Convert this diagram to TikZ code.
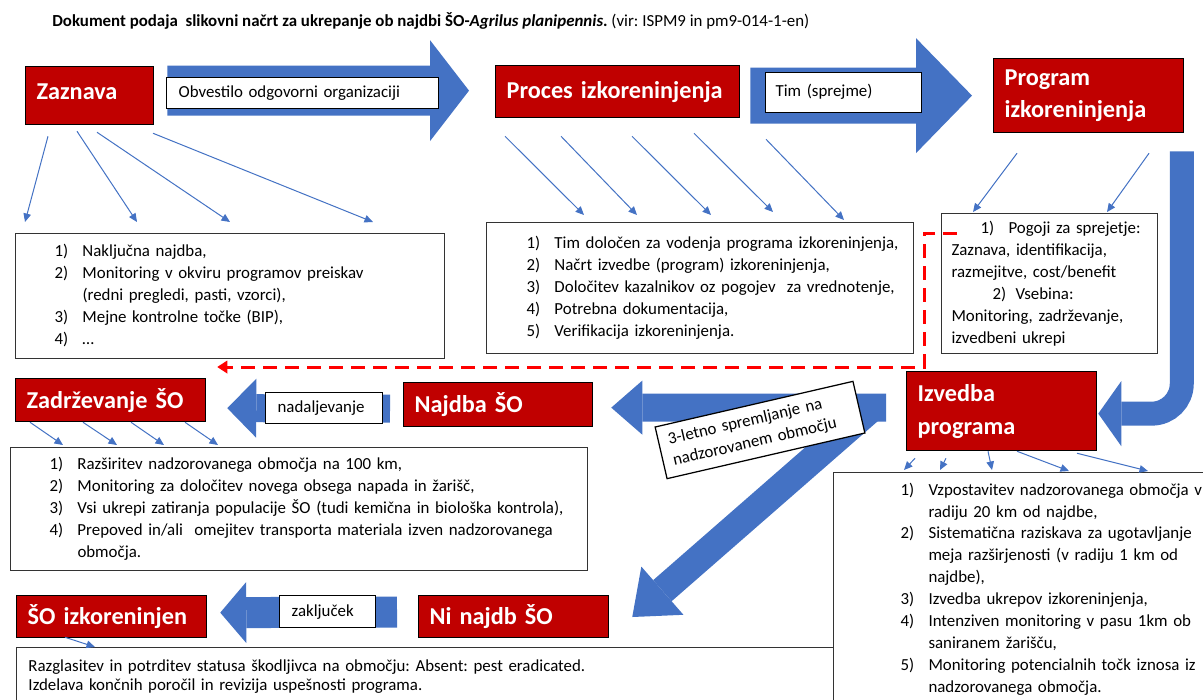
\documentclass[tikz,border=0pt]{standalone}
\usepackage{fontspec}
\setmainfont{Carlito}
\usepackage{xcolor}
\usepackage{tikz}
\usetikzlibrary{arrows.meta, calc, positioning}

\definecolor{temnordeca}{HTML}{C00000}
\definecolor{modra}{HTML}{4472C4}
\frenchspacing

\begin{document}
\begin{tikzpicture}[x=0.2mm, y=-0.2mm,
    fan/.style = {draw=modra, line width=0.2mm, -{Triangle[length=1.7mm,width=1.5mm]}},
    big/.style n args = {3}{draw=modra, line width=#1, -{Triangle[length=#2,width=#3,line width=0pt]}}]
  \tikzset{okvir/.style 2 args={anchor=north west, inner sep=0pt, minimum width=#1, minimum height=#2, align=left}}
  \tikzset{stage/.style={draw=black, line width=0.25mm, fill=temnordeca, text=white, font=\fontsize{13.8}{18.7}\selectfont\bfseries}}
  \tikzset{seznam/.style={draw=black!80, line width=0.2mm, fill=white, font=\fontsize{9.6}{12.5}\selectfont}}
  \tikzset{oznaka/.style={draw=black, line width=0.25mm, fill=white, inner sep=0pt, align=left, font=\fontsize{9.6}{12.5}\selectfont}}
  \tikzset{crtkano/.style={draw=red, line width=0.6mm, dash pattern=on 2.8mm off 1.6mm, -{Triangle[length=2mm,width=2.6mm,line width=0pt]}}}

  \useasboundingbox (0,0) rectangle (1203,699);
  \clip (0,0) rectangle (1203,699);
  \fill[white] (0,0) rectangle (1203,699);

  % Naslov
  \node[anchor=west, inner sep=0pt, font=\fontsize{9.6}{11}\selectfont] (naslov) at (52,21) {\textbf{Dokument podaja~ slikovni načrt za ukrepanje ob najdbi ŠO-\textit{Agrilus planipennis}.} (vir: ISPM9 in pm9-014-1-en)};

  % Faze
  \node[okvir={25.6mm}{11.6mm}, stage, text width=21.2mm] (zaznava) at (25,66) {\raisebox{1.4mm}{Zaznava}};
  \node[okvir={48.8mm}{10.4mm}, stage, text width=44.4mm] (proces) at (495,65) {Proces izkoreninjenja};
  \node[okvir={38mm}{14.8mm}, stage, text width=33.6mm] (program) at (993,58) {Program\\izkoreninjenja};
  \node[okvir={38mm}{15.8mm}, stage, text width=33.6mm] (izvedba) at (906,371) {Izvedba\\programa};
  \node[okvir={37.8mm}{8.8mm}, stage, text width=33.4mm] (najdba) at (403,382) {Najdba ŠO};
  \node[okvir={38mm}{8.6mm}, stage, text width=33.6mm] (zadrz) at (15,378) {Zadrževanje ŠO};
  \node[okvir={38mm}{8.4mm}, stage, text width=33.6mm] (izkor) at (16,595) {ŠO izkoreninjen};
  \node[okvir={38mm}{8.4mm}, stage, text width=33.6mm] (ninajdb) at (418,595) {Ni najdb ŠO};

  % Seznami
  \node[okvir={85.8mm}{25mm}, seznam, text width=70.2mm] (zazlist) at (15,233) {\begin{tabular}{@{}p{5.6mm}@{}l@{}}
    1) & Naključna najdba,\\
    2) & Monitoring v okviru programov preiskav\\
       & (redni pregledi, pasti, vzorci),\\
    3) & Mejne kontrolne točke (BIP),\\
    4) & …
  \end{tabular}};
  \node[okvir={85.4mm}{26.2mm}, seznam, text width=69.4mm] (proclist) at (486,222) {\begin{tabular}{@{}p{5.6mm}@{}l@{}}
    1) & Tim določen za vodenja programa izkoreninjenja,\\
    2) & Načrt izvedbe (program) izkoreninjenja,\\
    3) & Določitev kazalnikov oz pogojev~ za vrednotenje,\\
    4) & Potrebna dokumentacija,\\
    5) & Verifikacija izkoreninjenja.
  \end{tabular}};
  \node[okvir={43.2mm}{28mm}, seznam, text width=39.2mm] (proglist) at (941,213) {\hspace*{5.8mm}\makebox[5.6mm][l]{1)}Pogoji za sprejetje:\\
    Zaznava, identifikacija,\\
    razmejitve, cost/benefit\\
    \hspace*{8.2mm}\makebox[4.6mm][l]{2)}Vsebina:\\
    Monitoring, zadrževanje,\\
    izvedbeni ukrepi};
  \node[okvir={115.4mm}{24.6mm}, seznam, text width=99.8mm] (zadrzlist) at (10,447) {\begin{tabular}{@{}p{5.6mm}@{}l@{}}
    1) & Razširitev nadzorovanega območja na 100 km,\\
    2) & Monitoring za določitev novega obsega napada in žarišč,\\
    3) & Vsi ukrepi zatiranja populacije ŠO (tudi kemična in biološka kontrola),\\
    4) & Prepoved in/ali~ omejitev transporta materiala izven nadzorovanega\\
       & območja.
  \end{tabular}};
  \node[okvir={91.4mm}{46.8mm}, seznam, text width=64.6mm] (izvlist) at (833,472) {\begin{tabular}{@{}p{5.6mm}@{}l@{}}
    1) & Vzpostavitev nadzorovanega območja v\\
       & radiju 20 km od najdbe,\\
    2) & Sistematična raziskava za ugotavljanje\\
       & meja razširjenosti (v radiju 1 km od\\
       & najdbe),\\
    3) & Izvedba ukrepov izkoreninjenja,\\
    4) & Intenziven monitoring v pasu 1km ob\\
       & saniranem žarišču,\\
    5) & Monitoring potencialnih točk iznosa iz\\
       & nadzorovanega območja.
  \end{tabular}};
  \node[okvir={163.4mm}{11.8mm}, seznam, text width=158.6mm, font=\fontsize{9.6}{10.8}\selectfont] (konec) at (16,647) {Razglasitev in potrditev statusa škodljivca na območju: Absent: pest eradicated.\\
    Izdelava končnih poročil in revizija uspešnosti programa.};

  % Tanke puscice
  \foreach \a/\b/\c/\d in {23/11/10/-11, 52/6/122/-11, 72/7/215/-11, 128/8/358/-11}
    \draw[fan] ($(zaznava.south west)+(\a,\b)$) -- ($(zazlist.north west)+(\c,\d)$);
  \foreach \a/\b/\c/\d in {10/18/98/-7, 66/18/151/-7, 137/18/225/-7, 199/15/287/-10, 271/21/358/-2}
    \draw[fan] ($(proces.south west)+(\a,\b)$) -- ($(proclist.north west)+(\c,\d)$);
  \foreach \a/\b/\c/\d in {24/20/32/-1, 156/20/166/-1}
    \draw[fan] ($(program.south west)+(\a,\b)$) -- ($(proglist.north west)+(\c,\d)$);
  \foreach \a/\b/\c/\d in {15/0/53/-2, 68/0/107/-2, 116/0/154/-2, 170/0/208/-2}
    \draw[fan] ($(zadrz.south west)+(\a,\b)$) -- ($(zadrzlist.north west)+(\c,\d)$);
  \foreach \a/\b/\c/\d in {9/7/71/-2, 40/7/107/-2, 82/0/159/-2, 111/0/236/-1, 171/2/315/-1}
    \draw[fan] ($(izvedba.south west)+(\a,\b)$) -- ($(izvlist.north west)+(\c,\d)$);
  \draw[fan] ($(izkor.south west)+(49,-1)$) -- ($(konec.north west)+(79,0)$);

  % Debele puscice
  \draw[big={10mm}{7.8mm}{20.2mm}] ($(zaznava.east)+(13,-5)$) -- ($(proces.west)+(-26,-1)$);
  \draw[big={11.2mm}{11.2mm}{23mm}] ($(proces.east)+(10,4)$) -- ($(program.west)+(-21,0)$);
  \draw[big={4.8mm}{4.6mm}{13mm}, rounded corners=6mm] ($(program.south east)+(-2.5,18)$) |- ($(izvedba.east)+(1,2.5)$);
  \draw[big={5.6mm}{8mm}{12.8mm}] ($(izvedba.west)+(-34,-3.5)$) -- ($(ninajdb.north east)+(23,22)$);
  \draw[big={5.6mm}{6.2mm}{10.8mm}] ($(izvedba.west)+(-20,-3.5)$) -- ($(najdba.east)+(18,3)$);
  \draw[big={5.6mm}{5.8mm}{11.8mm}] ($(najdba.west)+(-13,4)$) -- ($(zadrz.east)+(21,8)$);
  \draw[big={6.2mm}{5.2mm}{12.2mm}] ($(ninajdb.west)+(-21,-4.5)$) -- ($(izkor.east)+(13,-4)$);

  % Oznake na puscicah
  \node[okvir={54.4mm}{6.2mm}, oznaka, text width=49.6mm] (obvest) at (166,77) {Obvestilo odgovorni organizaciji};
  \node[okvir={31.2mm}{8mm}, oznaka, text width=27.2mm] (tim) at (765,72) {\raisebox{0.8mm}{Tim (sprejme)}};
  \node[okvir={23.4mm}{6.2mm}, oznaka, text width=18.6mm] (nadalj) at (265,392) {nadaljevanje};
  \node[okvir={19.2mm}{6.4mm}, oznaka, text width=14.4mm] (zaklj) at (279,595) {zaključek};
  \node[oznaka, rotate=13, minimum width=40.6mm, minimum height=10.6mm, text width=36.6mm] (spremlj) at (760,430) {3-letno spremljanje na\\nadzorovanem območju};

  % Crtkana povratna puscica
  \draw[crtkano] ($(proglist.north west)+(16,20)$) -| ($(proclist.east)+(10,0)$) |- ($(zadrz.north east)+(11,-11)$);

\end{tikzpicture}
\end{document}
